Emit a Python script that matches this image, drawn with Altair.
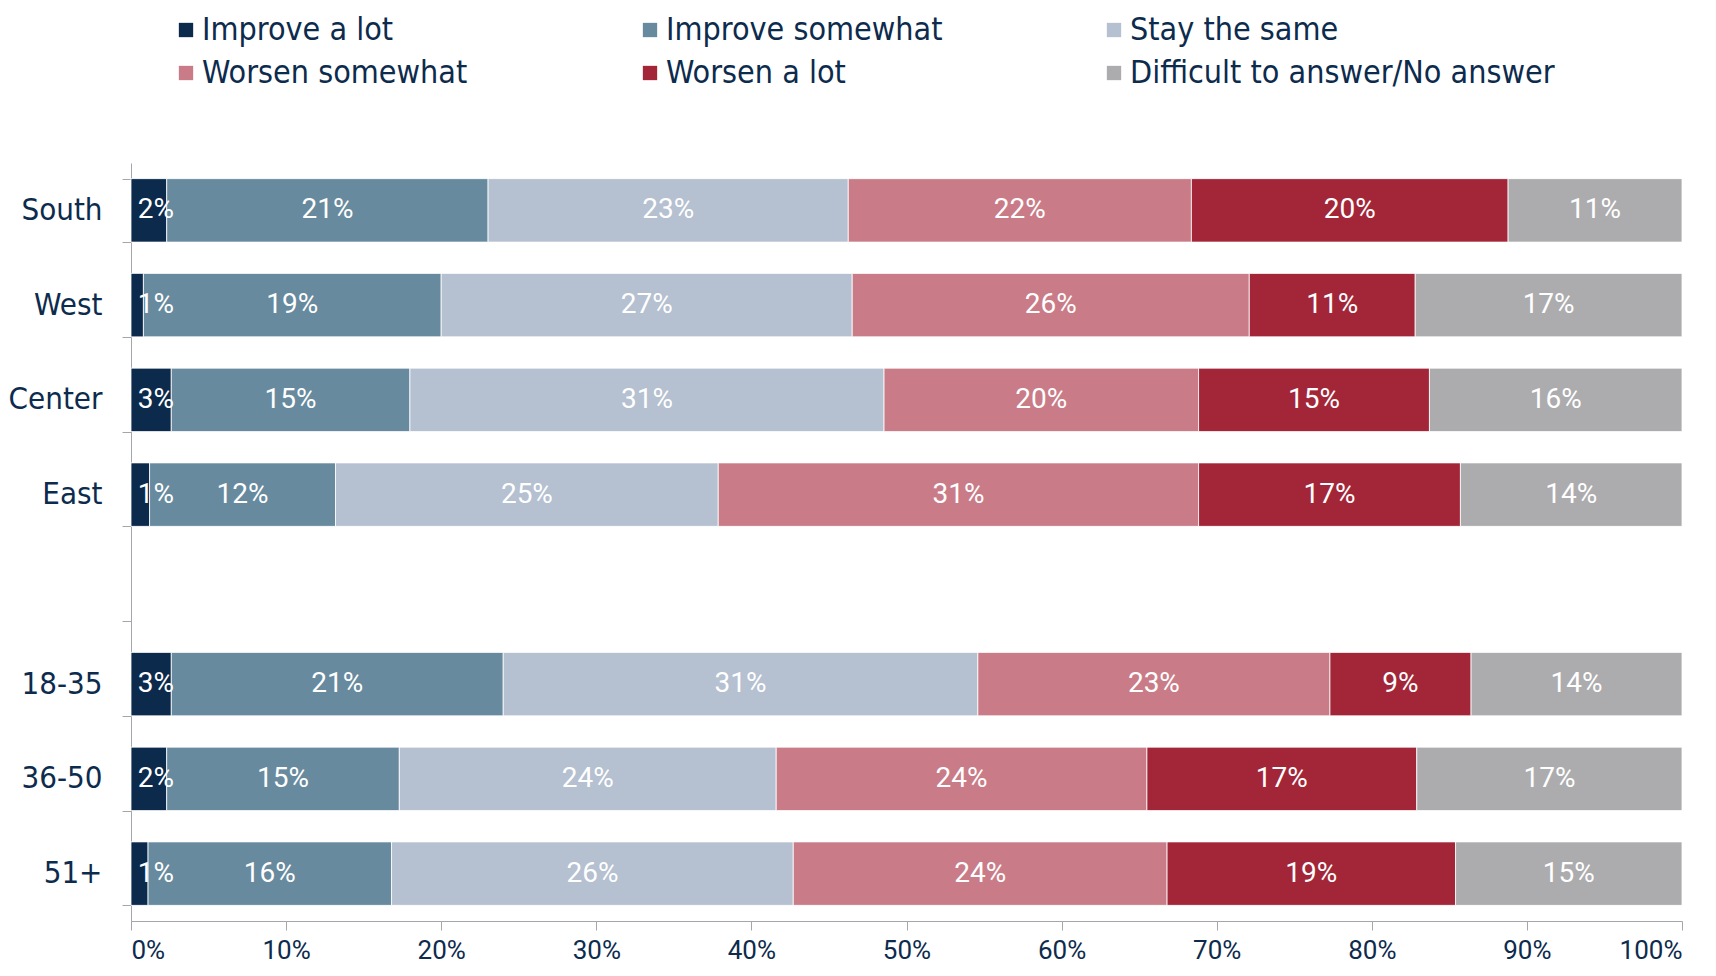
import altair as alt
import pandas as pd

categories = ["South", "West", "Center", "East", " ", "18-35", "36-50", "51+"]
series = ["Improve a lot", "Improve somewhat", "Stay the same",
          "Worsen somewhat", "Worsen a lot", "Difficult to answer/No answer"]
colors = ["#0c2a4c", "#678a9e", "#b5c0d0", "#c97c87", "#a32638", "#acacae"]

# percent values per row, in series order
south = [2.3, 20.7, 23.2, 22.1, 20.4, 11.2]
west = [0.8, 19.2, 26.5, 25.6, 10.7, 17.2]
center = [2.6, 15.4, 30.6, 20.3, 14.9, 16.3]
east = [1.2, 12.0, 24.7, 31.0, 16.9, 14.3]
age_18_35 = [2.6, 21.4, 30.6, 22.7, 9.1, 13.6]
age_36_50 = [2.3, 15.0, 24.3, 23.9, 17.4, 17.1]
age_51 = [1.1, 15.7, 25.9, 24.1, 18.6, 14.6]

rows = {"South": south, "West": west, "Center": center, "East": east,
        "18-35": age_18_35, "36-50": age_36_50, "51+": age_51}

records = []
for cat, vals in rows.items():
    for i, (s, v) in enumerate(zip(series, vals)):
        records.append({"cat": cat, "series": s, "order": i, "value": v})
df = pd.DataFrame(records)

TEXT = "#0d2b4d"
AX = "#a3a6ab"

base = alt.Chart(df).transform_stack(
    stack="value", as_=["x0", "x1"], groupby=["cat"],
    sort=[alt.SortField("order", order="ascending")], offset="normalize"
).transform_calculate(
    mid="max((datum.x0 + datum.x1) / 2, 0.016)",
    label="format(datum.value, '.0f') + '%'"
)

y_enc = alt.Y("cat:N", title=None,
              scale=alt.Scale(domain=categories, paddingInner=0.33, paddingOuter=0.165),
              axis=alt.Axis(tickBand="extent", tickSize=9, labelPadding=20,
                            domainColor=AX, tickColor=AX, labelColor=TEXT,
                            labelFont="DejaVu Sans Condensed", labelFontSize=31,
                            ticks=True, domain=True))

bars = base.mark_bar(stroke="white", strokeWidth=0.8).encode(
    x=alt.X("x0:Q", title=None, scale=alt.Scale(domain=[0, 1], nice=False),
            axis=alt.Axis(values=[i / 10 for i in range(11)], format=".0%",
                          tickSize=9, labelPadding=28, labelBaseline="alphabetic",
                          grid=False,
                          domainColor=AX, tickColor=AX, labelColor=TEXT,
                          labelFont="Roboto", labelFontSize=26)),
    x2="x1:Q",
    y=y_enc,
    color=alt.Color("series:N", sort=series,
                    scale=alt.Scale(domain=series, range=colors),
                    legend=alt.Legend(title=None, orient="none", legendX=39, legendY=-149,
                                      direction="horizontal", columns=3,
                                      gridAlign="all", columnPadding=7, rowPadding=11,
                                      symbolType="square", symbolSize=205,
                                      symbolStrokeWidth=0, labelOffset=0,
                                      labelFont="DejaVu Sans Condensed", labelFontSize=32,
                                      labelColor=TEXT, padding=0, labelLimit=600)),
    order=alt.Order("order:Q"),
)

text = base.mark_text(color="white", font="Roboto", fontSize=28,
                      baseline="middle", align="center").encode(
    x="mid:Q",
    y=alt.Y("cat:N", scale=alt.Scale(domain=categories)),
    text="label:N",
)

chart = alt.layer(bars, text).properties(
    width=1551, height=758,
    autosize=alt.AutoSizeParams(type="none"),
    padding={"left": 123, "top": 155, "right": 26, "bottom": 45},
).configure_view(stroke=None)

chart.save("out.html", embed_options={"renderer": "svg", "actions": False})
